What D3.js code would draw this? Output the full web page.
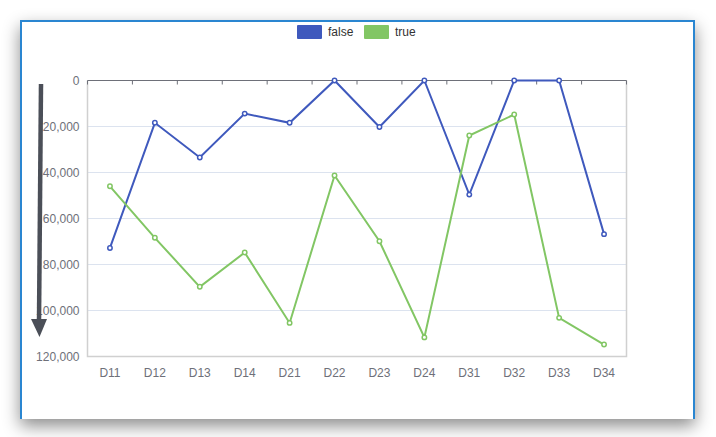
<!DOCTYPE html>
<html>
  <head>
    <meta charset="utf-8"/>
    <script src="https://cdn.jsdelivr.net/npm/d3@7"></script>
    <style type="text/css">

html, body {
  margin: 0;
  padding: 0;
  width: 716px;
  height: 437px;
  background: #fff;
  overflow: hidden;
}

#frame {
  position: absolute;
  left: 20px;
  top: 20px;
  width: 671px;
  height: 397px;
  background: #fff;
  border: 2px solid #2a86d1;
  border-bottom: none;
  box-shadow: 0 7px 16px rgba(0, 0, 0, 0.45);
}

svg {
  position: absolute;
  left: 0;
  top: 0;
  font-family: "Liberation Sans", Arial, sans-serif;
}

    </style>
  </head>
  <body>
    <div id="frame"></div>
    <svg id="chart" width="716" height="437"></svg>
    <script type="text/javascript">

var categories = ["D11", "D12", "D13", "D14", "D21", "D22", "D23", "D24", "D31", "D32", "D33", "D34"];
var falseValues = [72800, 18400, 33500, 14400, 18400, 0, 20200, 0, 49600, 0, 0, 66800];
var trueValues = [46000, 68400, 89700, 74800, 105400, 41300, 69900, 111700, 23900, 14800, 103200, 114800];
var yTicks = [0, 20000, 40000, 60000, 80000, 100000, 120000];

var series = [
  {name: "false", color: "#3f59bd", values: falseValues},
  {name: "true", color: "#82c664", values: trueValues}
];

var plotLeft = 87.5, plotRight = 626.5, plotTop = 80.5, plotBottom = 356.5;

var svg = d3.select("#chart");

var x = d3.scaleBand().domain(categories).range([plotLeft, plotRight]);
// y axis is inverted: 0 at the top
var y = d3.scaleLinear().domain([0, 120000]).range([plotTop, plotBottom]);

// grid lines
svg.append("g")
  .selectAll("line")
  .data(yTicks.slice(1, -1))
  .enter().append("line")
    .attr("x1", plotLeft).attr("x2", plotRight)
    .attr("y1", function(d) { return y(d); })
    .attr("y2", function(d) { return y(d); })
    .attr("stroke", "#dce3ef")
    .attr("stroke-width", 1);

// light border on left, right, bottom
svg.append("path")
  .attr("d", "M" + plotLeft + "," + plotTop + "V" + plotBottom + "H" + plotRight + "V" + plotTop)
  .attr("fill", "none")
  .attr("stroke", "#d0d0d0")
  .attr("stroke-width", 1.5);

// x axis line along value 0 (top), ticks between categories
var xAxisTop = svg.append("g");
xAxisTop.append("line")
  .attr("x1", plotLeft).attr("x2", plotRight)
  .attr("y1", y(0)).attr("y2", y(0))
  .attr("stroke", "#6e7079");
xAxisTop.selectAll("line.tick")
  .data(categories.concat([null]))
  .enter().append("line")
    .attr("class", "tick")
    .attr("x1", function(d, i) { return plotLeft + i * x.step(); })
    .attr("x2", function(d, i) { return plotLeft + i * x.step(); })
    .attr("y1", y(0)).attr("y2", y(0) + 4)
    .attr("stroke", "#6e7079");

// x labels at bottom
svg.append("g")
  .selectAll("text")
  .data(categories)
  .enter().append("text")
    .attr("x", function(d) { return x(d) + x.bandwidth() / 2; })
    .attr("y", plotBottom + 20)
    .attr("text-anchor", "middle")
    .attr("font-size", 12)
    .attr("fill", "#6e7079")
    .text(function(d) { return d; });

// y labels
svg.append("g")
  .selectAll("text")
  .data(yTicks)
  .enter().append("text")
    .attr("x", plotLeft - 8)
    .attr("y", function(d) { return y(d); })
    .attr("dy", "0.35em")
    .attr("text-anchor", "end")
    .attr("font-size", 12)
    .attr("fill", "#6e7079")
    .text(function(d) { return d3.format(",")(d); });

// lines and points
var line = d3.line()
  .x(function(d, i) { return x(categories[i]) + x.bandwidth() / 2; })
  .y(function(d) { return y(d); });

series.forEach(function(s) {
  svg.append("path")
    .datum(s.values)
    .attr("d", line)
    .attr("fill", "none")
    .attr("stroke", s.color)
    .attr("stroke-width", 2);
  svg.append("g")
    .selectAll("circle")
    .data(s.values)
    .enter().append("circle")
      .attr("cx", function(d, i) { return x(categories[i]) + x.bandwidth() / 2; })
      .attr("cy", function(d) { return y(d); })
      .attr("r", 2.2)
      .attr("fill", "#fff")
      .attr("stroke", s.color)
      .attr("stroke-width", 1.5);
});

// legend
var legend = svg.append("g");
var legendX = [297, 364];
series.forEach(function(s, i) {
  legend.append("rect")
    .attr("x", legendX[i]).attr("y", 25)
    .attr("width", 25).attr("height", 14)
    .attr("rx", 1)
    .attr("fill", s.color);
  legend.append("text")
    .attr("x", legendX[i] + 31).attr("y", 32)
    .attr("dy", "0.35em")
    .attr("font-size", 12)
    .attr("fill", "#333")
    .text(s.name);
});

// down arrow annotation
svg.append("path")
  .attr("d", "M41,84L39,322")
  .attr("stroke", "#4b4f58")
  .attr("stroke-width", 4.5)
  .attr("fill", "none");
svg.append("path")
  .attr("d", "M31,319L47,319L39.5,337Z")
  .attr("fill", "#4b4f58");

    </script>
  </body>
</html>
